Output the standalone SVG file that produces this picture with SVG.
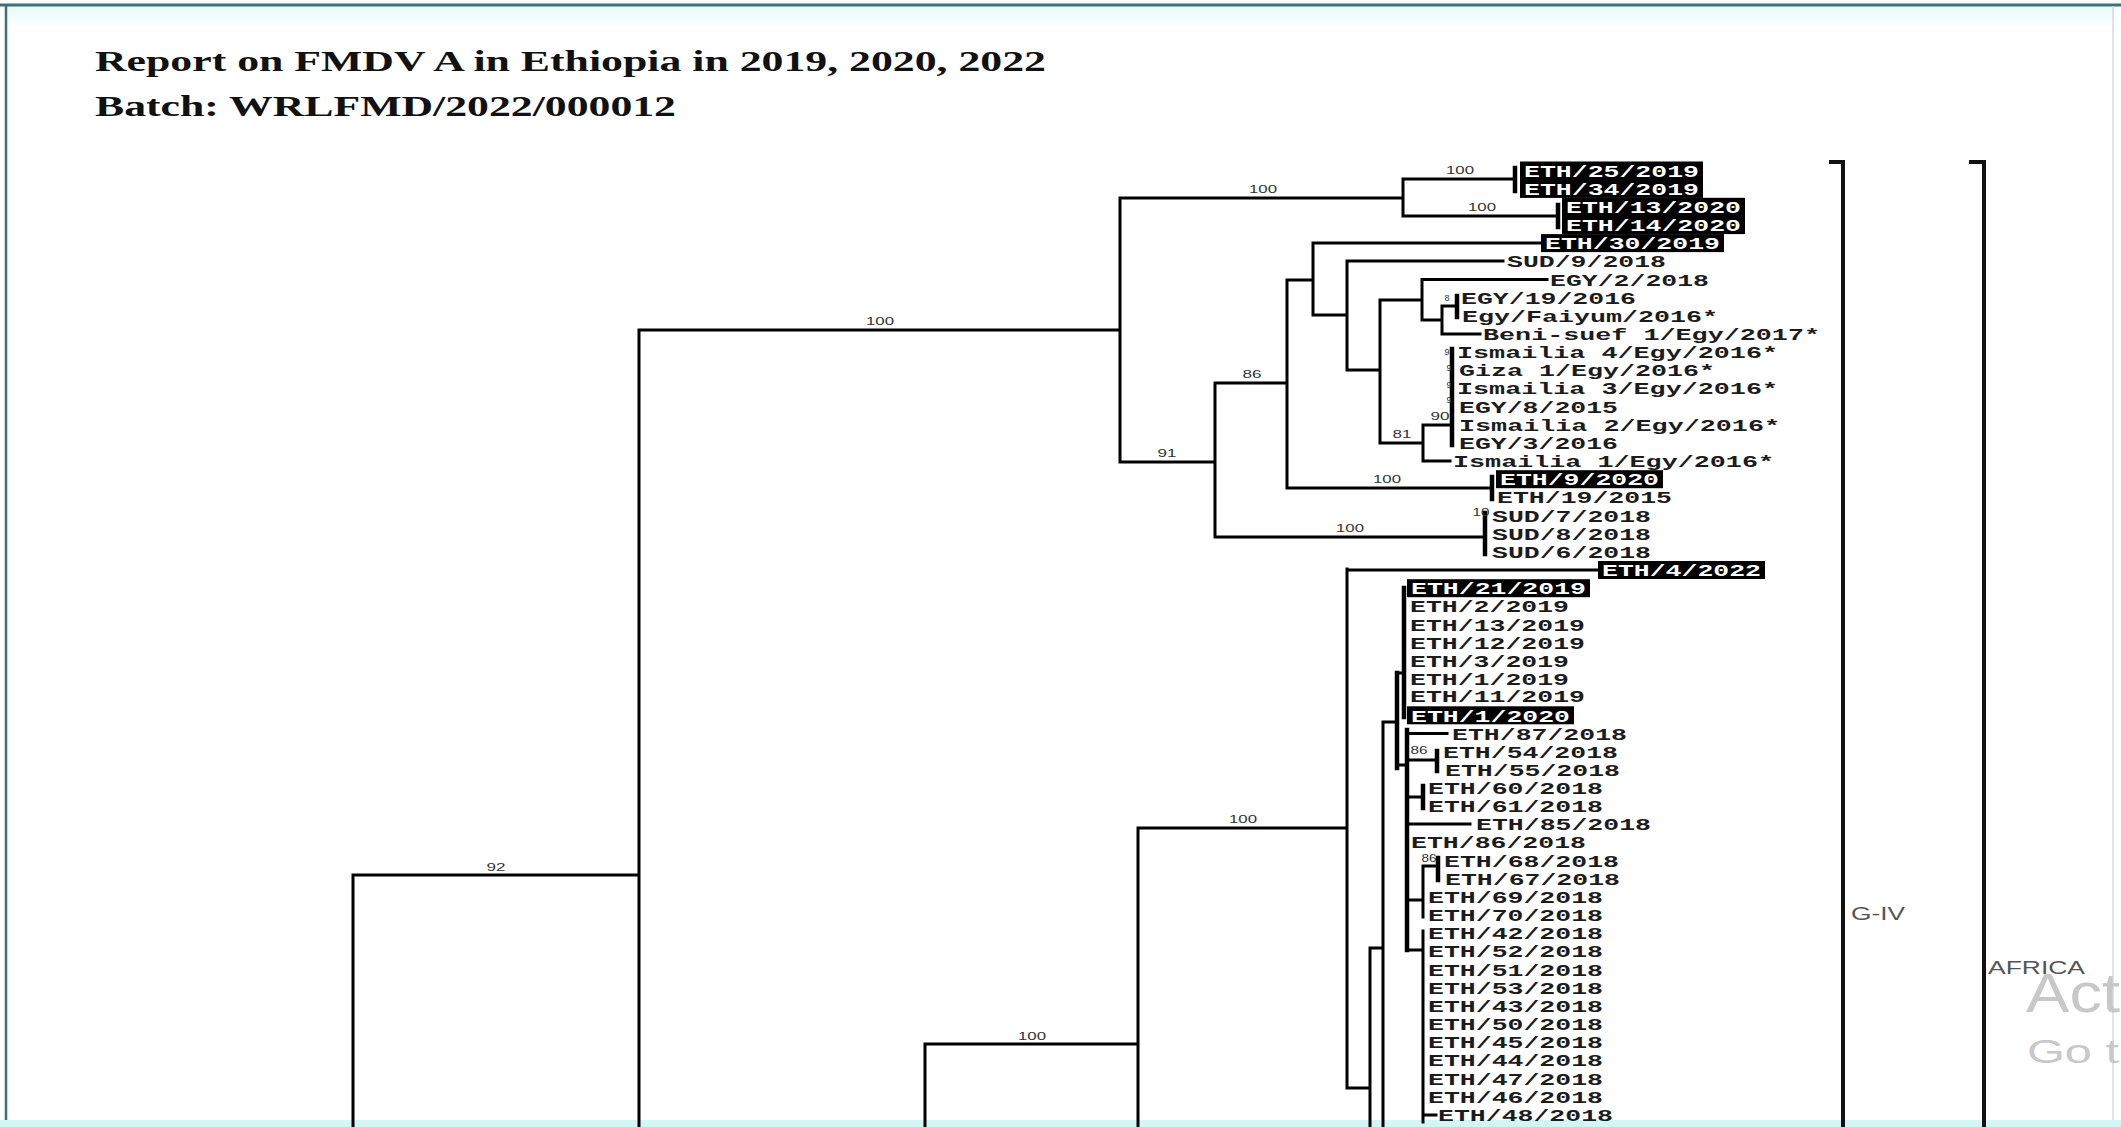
<svg xmlns="http://www.w3.org/2000/svg" width="2121" height="1127" viewBox="0 0 2121 1127">
<defs>
<linearGradient id="topband" x1="0" y1="0" x2="0" y2="1">
<stop offset="0" stop-color="#e6fafa"/>
<stop offset="1" stop-color="#ffffff"/>
</linearGradient>
</defs>
<style>
.br{stroke:#000;stroke-width:3;fill:none;stroke-linecap:square}
.thk{stroke-width:4.5}
.brk{stroke:#111;stroke-width:4;fill:none}
.tip{font-family:"Liberation Mono","Courier New",monospace;font-weight:bold;font-size:17px;fill:#1c1c1c}
.hl rect{fill:#000}
.hl text{fill:#fff}
.bs{font-family:"Liberation Sans",Arial,sans-serif;font-size:11.5px;fill:#333;text-anchor:middle}
.bs2{font-family:"Liberation Sans",Arial,sans-serif;font-size:9px;fill:#333;text-anchor:middle}
.ttl{font-family:"Liberation Serif","Times New Roman",serif;font-weight:bold;font-size:30px;fill:#111}
.grp{font-family:"Liberation Sans",Arial,sans-serif;font-size:18px;fill:#555}
.wm{font-family:"Liberation Sans",Arial,sans-serif;fill:#c8c8c8}
</style>
<rect x="0" y="0" width="2121" height="1127" fill="#ffffff"/>
<g id="frame">
<rect x="6" y="6" width="2110" height="22" fill="url(#topband)"/>
<line x1="0" y1="5" x2="2121" y2="5" stroke="#3b7272" stroke-width="3"/>
<line x1="6" y1="5" x2="6" y2="1127" stroke="#3b7272" stroke-width="2.5"/>
<line x1="2113" y1="6" x2="2113" y2="1120" stroke="#d6dada" stroke-width="1.5"/>
<rect x="0" y="1120" width="2121" height="7" fill="#d2f6f6"/>
</g>
<g id="title">
<text class="ttl" x="95" y="71" textLength="951" lengthAdjust="spacingAndGlyphs">Report on FMDV A in Ethiopia in 2019, 2020, 2022</text>
<text class="ttl" x="95" y="116" textLength="581" lengthAdjust="spacingAndGlyphs">Batch: WRLFMD/2022/000012</text>
</g>
<g id="connectors">
<path class="br" d="M353 1127V875H639 M639 1127V330 M639 330H1120 M1120 198V462 M1120 198H1403 M1403 179V216 M1403 179H1515 M1403 216H1558 M1120 462H1215 M1215 383V537 M1215 383H1287 M1287 280V488 M1287 280H1313 M1313 243V315 M1313 243H1541 M1313 315H1347 M1347 261V370 M1347 261H1503 M1347 370H1380 M1380 300V443 M1380 300H1422 M1422 279.5V320 M1422 279.5H1547 M1422 320H1442 M1442 306V334 M1442 306H1457 M1442 334H1480 M1380 443H1423 M1423 425V461 M1423 425H1452 M1423 461H1450 M1287 488H1492 M1215 537H1485"/>
<path class="br thk" d="M1515 168V191 M1558 205V227 M1457 296V317 M1452 349V445 M1492 477V499 M1485 513V554"/>
<path class="br" d="M925 1127V1044H1138 M1138 1127V828H1347 M1347 569V1088 M1347 570H1598 M1347 1088H1370 M1370 1127V948H1383 M1383 1127V722H1397 M1397 673H1404 M1397 765H1407 M1407 733.5H1447 M1407 760H1437 M1407 797H1423 M1407 824H1470 M1407 900H1423 M1423 866V917 M1423 866H1438 M1407 950H1423 M1423 931V1122 M1423 1115H1436"/>
<path class="br thk" d="M1397 673V768 M1404 588V717 M1407 730V950 M1437 751V771 M1423 786V808 M1438 858V880"/>
<path class="brk" d="M1829 162H1843V1127 M1969 162H1984V1127"/>
</g>
<g id="bootstrap">
<text class="bs" x="496" y="871" textLength="19" lengthAdjust="spacingAndGlyphs">92</text>
<text class="bs" x="880" y="325" textLength="28" lengthAdjust="spacingAndGlyphs">100</text>
<text class="bs" x="1263" y="193" textLength="28" lengthAdjust="spacingAndGlyphs">100</text>
<text class="bs" x="1167" y="457" textLength="19" lengthAdjust="spacingAndGlyphs">91</text>
<text class="bs" x="1252" y="378" textLength="19" lengthAdjust="spacingAndGlyphs">86</text>
<text class="bs" x="1350" y="532" textLength="28" lengthAdjust="spacingAndGlyphs">100</text>
<text class="bs" x="1387" y="483" textLength="28" lengthAdjust="spacingAndGlyphs">100</text>
<text class="bs" x="1402" y="438" textLength="19" lengthAdjust="spacingAndGlyphs">81</text>
<text class="bs" x="1460" y="174" textLength="28" lengthAdjust="spacingAndGlyphs">100</text>
<text class="bs" x="1482" y="211" textLength="28" lengthAdjust="spacingAndGlyphs">100</text>
<text class="bs" x="1243" y="823" textLength="28" lengthAdjust="spacingAndGlyphs">100</text>
<text class="bs" x="1032" y="1040" textLength="28" lengthAdjust="spacingAndGlyphs">100</text>
<text class="bs" x="1440" y="420" textLength="19" lengthAdjust="spacingAndGlyphs">90</text>
<text class="bs2" x="1447" y="301">8</text>
<text class="bs2" x="1447" y="355">9</text>
<text class="bs2" x="1449" y="371">9</text>
<text class="bs2" x="1449" y="388">9</text>
<text class="bs2" x="1449" y="403">9</text>
<text class="bs" x="1481" y="516" textLength="17" lengthAdjust="spacingAndGlyphs">10</text>
<text class="bs" x="1419" y="754" textLength="17" lengthAdjust="spacingAndGlyphs">86</text>
<text class="bs" x="1429" y="862" textLength="15" lengthAdjust="spacingAndGlyphs">86</text>
</g>
<g id="tips">
<g id="t0" class="hl"><rect x="1520" y="161.5" width="183" height="36.4"/><text class="tip" x="1524" y="176.5" textLength="175" lengthAdjust="spacingAndGlyphs">ETH/25/2019</text></g>
<g id="t1" class="hl"><text class="tip" x="1524" y="194.7" textLength="175" lengthAdjust="spacingAndGlyphs">ETH/34/2019</text></g>
<g id="t2" class="hl"><rect x="1562" y="197.8" width="183" height="36.3"/><text class="tip" x="1566" y="212.8" textLength="175" lengthAdjust="spacingAndGlyphs">ETH/13/2020</text></g>
<g id="t3" class="hl"><text class="tip" x="1566" y="231" textLength="175" lengthAdjust="spacingAndGlyphs">ETH/14/2020</text></g>
<g id="t4" class="hl"><rect x="1541" y="234.1" width="183" height="18"/><text class="tip" x="1545" y="249.1" textLength="175" lengthAdjust="spacingAndGlyphs">ETH/30/2019</text></g>
<g id="t5"><text class="tip" x="1507" y="267.3" textLength="159" lengthAdjust="spacingAndGlyphs">SUD/9/2018</text></g>
<g id="t6"><text class="tip" x="1550" y="285.5" textLength="159" lengthAdjust="spacingAndGlyphs">EGY/2/2018</text></g>
<g id="t7"><text class="tip" x="1461" y="303.6" textLength="175" lengthAdjust="spacingAndGlyphs">EGY/19/2016</text></g>
<g id="t8"><text class="tip" x="1462" y="321.8" textLength="256" lengthAdjust="spacingAndGlyphs">Egy/Faiyum/2016*</text></g>
<g id="t9"><text class="tip" x="1483" y="339.9" textLength="337" lengthAdjust="spacingAndGlyphs">Beni-suef 1/Egy/2017*</text></g>
<g id="t10"><text class="tip" x="1457" y="358.1" textLength="321" lengthAdjust="spacingAndGlyphs">Ismailia 4/Egy/2016*</text></g>
<g id="t11"><text class="tip" x="1459" y="376.3" textLength="256" lengthAdjust="spacingAndGlyphs">Giza 1/Egy/2016*</text></g>
<g id="t12"><text class="tip" x="1457" y="394.4" textLength="321" lengthAdjust="spacingAndGlyphs">Ismailia 3/Egy/2016*</text></g>
<g id="t13"><text class="tip" x="1459" y="412.6" textLength="159" lengthAdjust="spacingAndGlyphs">EGY/8/2015</text></g>
<g id="t14"><text class="tip" x="1459" y="430.7" textLength="321" lengthAdjust="spacingAndGlyphs">Ismailia 2/Egy/2016*</text></g>
<g id="t15"><text class="tip" x="1459" y="448.9" textLength="159" lengthAdjust="spacingAndGlyphs">EGY/3/2016</text></g>
<g id="t16"><text class="tip" x="1453" y="467.1" textLength="321" lengthAdjust="spacingAndGlyphs">Ismailia 1/Egy/2016*</text></g>
<g id="t17" class="hl"><rect x="1496" y="470.2" width="167" height="18"/><text class="tip" x="1500" y="485.2" textLength="159" lengthAdjust="spacingAndGlyphs">ETH/9/2020</text></g>
<g id="t18"><text class="tip" x="1497" y="503.4" textLength="175" lengthAdjust="spacingAndGlyphs">ETH/19/2015</text></g>
<g id="t19"><text class="tip" x="1492" y="521.5" textLength="159" lengthAdjust="spacingAndGlyphs">SUD/7/2018</text></g>
<g id="t20"><text class="tip" x="1492" y="539.7" textLength="159" lengthAdjust="spacingAndGlyphs">SUD/8/2018</text></g>
<g id="t21"><text class="tip" x="1492" y="557.9" textLength="159" lengthAdjust="spacingAndGlyphs">SUD/6/2018</text></g>
<g id="t22" class="hl"><rect x="1598" y="561" width="167" height="18"/><text class="tip" x="1602" y="576" textLength="159" lengthAdjust="spacingAndGlyphs">ETH/4/2022</text></g>
<g id="t23" class="hl"><rect x="1407" y="579.2" width="183" height="18"/><text class="tip" x="1411" y="594.2" textLength="175" lengthAdjust="spacingAndGlyphs">ETH/21/2019</text></g>
<g id="t24"><text class="tip" x="1410" y="612.3" textLength="159" lengthAdjust="spacingAndGlyphs">ETH/2/2019</text></g>
<g id="t25"><text class="tip" x="1410" y="630.5" textLength="175" lengthAdjust="spacingAndGlyphs">ETH/13/2019</text></g>
<g id="t26"><text class="tip" x="1410" y="648.7" textLength="175" lengthAdjust="spacingAndGlyphs">ETH/12/2019</text></g>
<g id="t27"><text class="tip" x="1410" y="666.8" textLength="159" lengthAdjust="spacingAndGlyphs">ETH/3/2019</text></g>
<g id="t28"><text class="tip" x="1410" y="685" textLength="159" lengthAdjust="spacingAndGlyphs">ETH/1/2019</text></g>
<g id="t29"><text class="tip" x="1410" y="702.3" textLength="175" lengthAdjust="spacingAndGlyphs">ETH/11/2019</text></g>
<g id="t30" class="hl"><rect x="1407" y="706.3" width="167" height="18"/><text class="tip" x="1411" y="722" textLength="159" lengthAdjust="spacingAndGlyphs">ETH/1/2020</text></g>
<g id="t31"><text class="tip" x="1452" y="739.5" textLength="175" lengthAdjust="spacingAndGlyphs">ETH/87/2018</text></g>
<g id="t32"><text class="tip" x="1443" y="757.6" textLength="175" lengthAdjust="spacingAndGlyphs">ETH/54/2018</text></g>
<g id="t33"><text class="tip" x="1445" y="775.8" textLength="175" lengthAdjust="spacingAndGlyphs">ETH/55/2018</text></g>
<g id="t34"><text class="tip" x="1428" y="793.9" textLength="175" lengthAdjust="spacingAndGlyphs">ETH/60/2018</text></g>
<g id="t35"><text class="tip" x="1428" y="812.1" textLength="175" lengthAdjust="spacingAndGlyphs">ETH/61/2018</text></g>
<g id="t36"><text class="tip" x="1476" y="830.3" textLength="175" lengthAdjust="spacingAndGlyphs">ETH/85/2018</text></g>
<g id="t37"><text class="tip" x="1411" y="848.4" textLength="175" lengthAdjust="spacingAndGlyphs">ETH/86/2018</text></g>
<g id="t38"><text class="tip" x="1444" y="866.6" textLength="175" lengthAdjust="spacingAndGlyphs">ETH/68/2018</text></g>
<g id="t39"><text class="tip" x="1445" y="884.7" textLength="175" lengthAdjust="spacingAndGlyphs">ETH/67/2018</text></g>
<g id="t40"><text class="tip" x="1428" y="902.9" textLength="175" lengthAdjust="spacingAndGlyphs">ETH/69/2018</text></g>
<g id="t41"><text class="tip" x="1428" y="921.1" textLength="175" lengthAdjust="spacingAndGlyphs">ETH/70/2018</text></g>
<g id="t42"><text class="tip" x="1428" y="939.2" textLength="175" lengthAdjust="spacingAndGlyphs">ETH/42/2018</text></g>
<g id="t43"><text class="tip" x="1428" y="957.4" textLength="175" lengthAdjust="spacingAndGlyphs">ETH/52/2018</text></g>
<g id="t44"><text class="tip" x="1428" y="975.5" textLength="175" lengthAdjust="spacingAndGlyphs">ETH/51/2018</text></g>
<g id="t45"><text class="tip" x="1428" y="993.7" textLength="175" lengthAdjust="spacingAndGlyphs">ETH/53/2018</text></g>
<g id="t46"><text class="tip" x="1428" y="1011.9" textLength="175" lengthAdjust="spacingAndGlyphs">ETH/43/2018</text></g>
<g id="t47"><text class="tip" x="1428" y="1030" textLength="175" lengthAdjust="spacingAndGlyphs">ETH/50/2018</text></g>
<g id="t48"><text class="tip" x="1428" y="1048.2" textLength="175" lengthAdjust="spacingAndGlyphs">ETH/45/2018</text></g>
<g id="t49"><text class="tip" x="1428" y="1066.3" textLength="175" lengthAdjust="spacingAndGlyphs">ETH/44/2018</text></g>
<g id="t50"><text class="tip" x="1428" y="1084.5" textLength="175" lengthAdjust="spacingAndGlyphs">ETH/47/2018</text></g>
<g id="t51"><text class="tip" x="1428" y="1102.7" textLength="175" lengthAdjust="spacingAndGlyphs">ETH/46/2018</text></g>
<g id="t52"><text class="tip" x="1438" y="1120.8" textLength="175" lengthAdjust="spacingAndGlyphs">ETH/48/2018</text></g>
</g>
<g id="groups">
<text class="grp" x="1851" y="920" textLength="54" lengthAdjust="spacingAndGlyphs">G-IV</text>
<text class="grp" x="1988" y="974" textLength="97" lengthAdjust="spacingAndGlyphs">AFRICA</text>
</g>
<g id="watermark">
<text class="wm" x="2026" y="1012" font-size="56" textLength="94" lengthAdjust="spacingAndGlyphs">Act</text>
<text class="wm" x="2027" y="1063" font-size="33" textLength="92" lengthAdjust="spacingAndGlyphs">Go t</text>
</g>
</svg>
